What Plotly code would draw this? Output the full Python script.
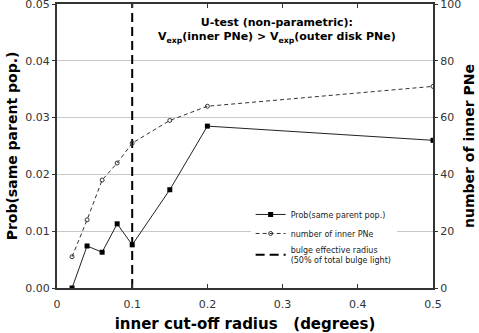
import plotly.graph_objects as go

radius = [0.02, 0.04, 0.06, 0.08, 0.10, 0.15, 0.20, 0.50]
prob_same = [0.0, 0.0074, 0.0063, 0.0113, 0.0076, 0.0173, 0.0285, 0.0260]
n_inner = [11, 24, 38, 44, 51, 59, 64, 71]
bulge_re = 0.1

font = "DejaVu Sans, Verdana, sans-serif"

fig = go.Figure()

fig.add_trace(go.Scatter(
    x=radius, y=prob_same, name="Prob(same parent pop.)",
    mode="lines+markers",
    line=dict(color="#222", width=1),
    marker=dict(symbol="square", size=5, color="black"),
))
fig.add_trace(go.Scatter(
    x=radius, y=n_inner, name="number of inner PNe", yaxis="y2",
    mode="lines+markers",
    line=dict(color="#333", width=1, dash="4px,3px"),
    marker=dict(symbol="circle-open", size=4, color="#333", line=dict(width=1)),
))
fig.add_trace(go.Scatter(
    x=[bulge_re, bulge_re], y=[0, 0.05],
    name="bulge effective radius<br>(50% of total bulge light)",
    mode="lines",
    line=dict(color="black", width=2, dash="9px,5px"),
))

fig.add_annotation(
    x=0.585, y=0.965, xref="paper", yref="paper", showarrow=False,
    text="<b>U-test (non-parametric):</b><br><b>V<sub>exp</sub>(inner PNe) &gt; V<sub>exp</sub>(outer disk PNe)</b>",
    font=dict(family=font, size=11, color="black"), align="center",
    xanchor="center", yanchor="top",
)

fig.update_layout(
    width=479, height=333,
    margin=dict(l=57, r=46, t=4, b=45, autoexpand=False),
    paper_bgcolor="white", plot_bgcolor="white",
    font=dict(family=font, color="#222"),
    showlegend=True,
    legend=dict(
        x=0.515, y=0.31, xanchor="left", yanchor="top",
        bgcolor="white", font=dict(size=8, family=font),
        tracegroupgap=2, itemwidth=30,
    ),
    xaxis=dict(
        range=[0, 0.5], dtick=0.1, tickformat=".1~f", automargin=False,
        showgrid=False, zeroline=False, ticklabeloverflow="allow",
        showline=True, linecolor="#333", linewidth=2, mirror="ticks",
        ticks="inside", ticklen=4, tickcolor="#333", ticklabelstandoff=5,
        tickfont=dict(size=11, color="#333"),
        title=dict(text="<b>inner cut-off radius   (degrees)</b>",
                   font=dict(size=15, color="black"), standoff=13),
    ),
    yaxis=dict(
        range=[0, 0.05], dtick=0.01, tickformat=".2f", automargin=False,
        showgrid=True, gridcolor="#c8c8c8", gridwidth=1, zeroline=False,
        ticklabeloverflow="allow",
        showline=True, linecolor="#333", linewidth=2,
        ticks="outside", ticklen=3, tickcolor="#333",
        tickfont=dict(size=11, color="#333"),
        title=dict(text="<b>Prob(same parent pop.)</b>",
                   font=dict(size=14, color="black"), standoff=4),
    ),
    yaxis2=dict(
        range=[0, 100], dtick=20, overlaying="y", side="right", automargin=False,
        showgrid=False, zeroline=False, ticklabeloverflow="allow",
        showline=True, linecolor="#333", linewidth=2,
        ticks="outside", ticklen=3, tickcolor="#333",
        tickfont=dict(size=11, color="#333"),
        title=dict(text="<b>number of inner PNe</b>",
                   font=dict(size=14, color="black"), standoff=4),
    ),
)

fig.write_html("out.html", config={"displayModeBar": False},
               post_script="document.body.style.margin='0';")
